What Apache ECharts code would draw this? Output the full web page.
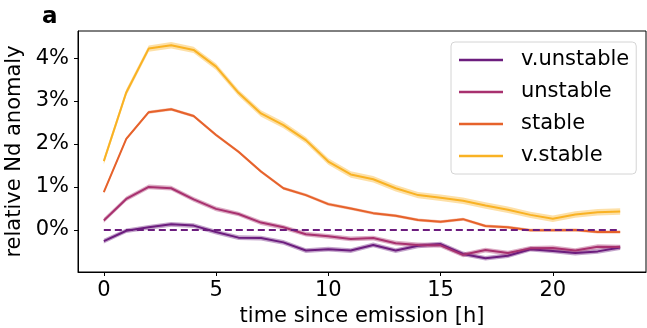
<!DOCTYPE html>
<html>
<head>
<meta charset="utf-8">
<script src="https://cdn.jsdelivr.net/npm/echarts@6/dist/echarts.min.js"></script>
<style>
  html, body { margin: 0; padding: 0; background: #fff; }
  #chart { width: 647px; height: 328px; }
</style>
</head>
<body>
<div id="chart"></div>
<script>
// hours since emission
var hours = [0, 1, 2, 3, 4, 5, 6, 7, 8, 9, 10, 11, 12, 13, 14, 15, 16, 17, 18, 19, 20, 21, 22, 23];

// relative Nd anomaly (%)
var vUnstable = [-0.26, -0.02, 0.06, 0.13, 0.10, -0.05, -0.18, -0.19, -0.29, -0.48, -0.45, -0.48, -0.35, -0.48, -0.37, -0.33, -0.56, -0.66, -0.60, -0.45, -0.49, -0.54, -0.50, -0.41];
var unstable  = [0.22, 0.72, 1.00, 0.97, 0.71, 0.49, 0.37, 0.17, 0.06, -0.10, -0.15, -0.21, -0.19, -0.31, -0.35, -0.36, -0.58, -0.47, -0.54, -0.43, -0.42, -0.48, -0.39, -0.40];
var stable    = [0.88, 2.12, 2.74, 2.81, 2.65, 2.21, 1.82, 1.36, 0.97, 0.81, 0.60, 0.50, 0.39, 0.33, 0.23, 0.19, 0.25, 0.09, 0.06, -0.01, -0.01, 0.00, -0.05, -0.05];
var vStable   = [1.60, 3.20, 4.22, 4.30, 4.19, 3.80, 3.19, 2.71, 2.44, 2.09, 1.59, 1.29, 1.18, 0.97, 0.81, 0.75, 0.68, 0.57, 0.47, 0.35, 0.26, 0.36, 0.41, 0.43];

// half width of the shaded uncertainty band (%)
var bandHalf = [0.055, 0.055, 0.035, 0.075];

var names = ['v.unstable', 'unstable', 'stable', 'v.stable'];
var colors = ['#6c1d7e', '#a8316f', '#e6622b', '#f9b224'];
var values = [vUnstable, unstable, stable, vStable];

var xTicks = [0, 5, 10, 15, 20];
var yTicks = [0, 1, 2, 3, 4];

var font = 'DejaVu Sans';

function pairs(arr) {
  return hours.map(function (h, i) { return [h, arr[i]]; });
}

// band polygon drawn through the axes
function bandSeries(k) {
  var arr = values[k];
  return {
    type: 'custom',
    silent: true,
    z: 1,
    data: pairs(arr),
    encode: { x: 0, y: 1 },
    renderItem: function (params, api) {
      if (params.dataIndex !== 0) return;
      var up = [], lo = [];
      for (var i = 0; i < hours.length; i++) {
        up.push(api.coord([hours[i], arr[i] + bandHalf[k]]));
        lo.unshift(api.coord([hours[i], arr[i] - bandHalf[k]]));
      }
      return {
        type: 'polygon',
        shape: { points: up.concat(lo) },
        style: { fill: colors[k], opacity: 0.4 }
      };
    }
  };
}

var series = [];
for (var k = 0; k < 4; k++) {
  series.push(bandSeries(k));
}
for (var k = 0; k < 4; k++) {
  series.push({
    name: names[k],
    type: 'line',
    data: pairs(values[k]),
    symbol: 'none',
    z: 2,
    lineStyle: { color: colors[k], width: 2 },
    itemStyle: { color: colors[k] }
  });
}
// dashed zero line
series.push({
  type: 'line',
  data: [[hours[0], 0], [hours[hours.length - 1], 0]],
  symbol: 'none',
  silent: true,
  z: 3,
  lineStyle: { color: colors[0], width: 2, type: [7, 4] }
});

var chart = echarts.init(document.getElementById('chart'));
chart.setOption({
  animation: false,
  textStyle: { fontFamily: font },
  grid: {
    left: 78, right: 1, top: 31, bottom: 56,
    outerBoundsMode: 'none', containLabel: false,
    show: true, borderColor: '#000', borderWidth: 1, backgroundColor: 'transparent'
  },
  graphic: [{
    type: 'text', left: 42, top: 6,
    style: { text: 'a', font: 'bold 23px "DejaVu Sans"', fill: '#000' }
  }],
  legend: {
    data: names,
    orient: 'vertical',
    left: 451, top: 42,
    icon: 'rect',
    itemWidth: 44, itemHeight: 2.5,
    itemGap: 8,
    padding: [6, 7, 6, 8],
    backgroundColor: 'rgba(255,255,255,0.85)',
    borderColor: '#d4d4d4', borderWidth: 1, borderRadius: 4,
    textStyle: { fontFamily: font, fontSize: 21, color: '#000', lineHeight: 24, padding: [0, 0, 0, 13] }
  },
  xAxis: {
    type: 'value',
    min: -1.15, max: 24.15,
    name: 'time since emission [h]',
    nameLocation: 'middle',
    nameGap: 33,
    nameTextStyle: { fontFamily: font, fontSize: 21, color: '#000' },
    axisLine: { show: true, onZero: false, lineStyle: { color: '#000', width: 1 } },
    axisTick: { show: true, length: 4, lineStyle: { color: '#000' }, customValues: xTicks },
    axisLabel: { fontSize: 21, color: '#000', margin: 8, customValues: xTicks },
    splitLine: { show: false }
  },
  yAxis: {
    type: 'value',
    min: -0.98, max: 4.63,
    name: 'relative Nd anomaly',
    nameLocation: 'middle',
    nameGap: 48,
    nameTextStyle: { fontFamily: font, fontSize: 21, color: '#000' },
    axisLine: { show: true, onZero: false, lineStyle: { color: '#000', width: 1 } },
    axisTick: { show: true, length: 4, lineStyle: { color: '#000' }, customValues: yTicks },
    axisLabel: { fontSize: 21, color: '#000', margin: 9, customValues: yTicks,
      formatter: function (v) { return v + '%'; } },
    splitLine: { show: false }
  },
  series: series
});
</script>
</body>
</html>
